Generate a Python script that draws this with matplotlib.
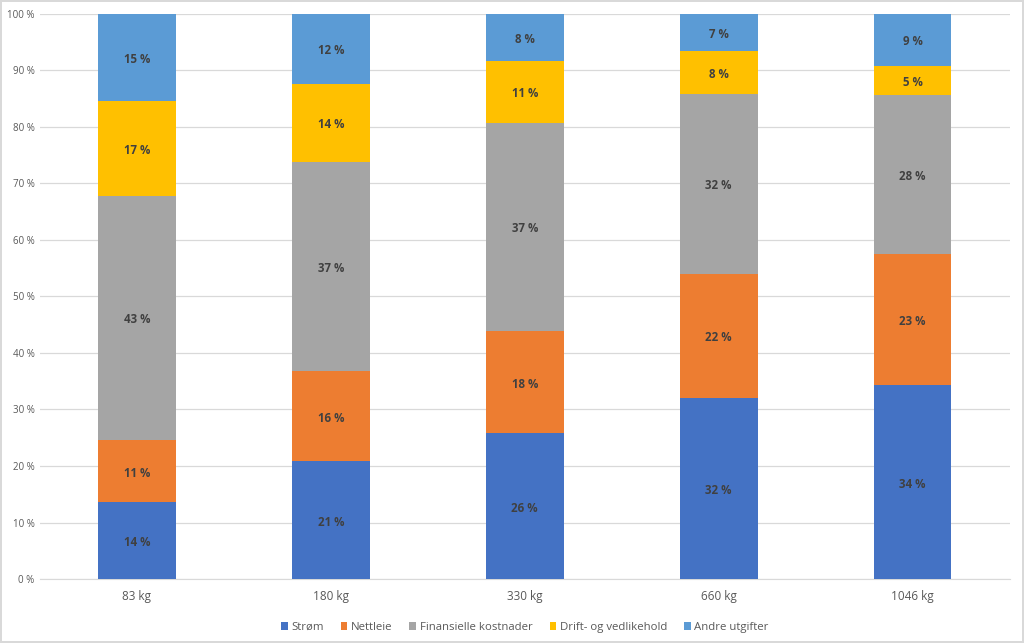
import numpy as np
from matplotlib import pyplot as plt

plt.rcParams['font.family'] = ['Open Sans', 'DejaVu Sans']

kategorier = ['83 kg', '180 kg', '330 kg', '660 kg', '1046 kg']
serier = ['Strøm', 'Nettleie', 'Finansielle kostnader', 'Drift- og vedlikehold', 'Andre utgifter']
strom = [13.6, 20.8, 25.8, 32.0, 34.3]
nettleie = [11.0, 16.0, 18.1, 22.0, 23.2]
finans = [43.2, 37.0, 36.8, 31.8, 28.2]
drift = [16.8, 13.8, 11.0, 7.6, 5.1]
andre = [15.4, 12.4, 8.3, 6.6, 9.2]
farger = ['#4472C4', '#ED7D31', '#A5A5A5', '#FFC000', '#5B9BD5']

fig = plt.figure(figsize=(10.24, 6.43), dpi=100)
fig.patch.set_edgecolor('#D9D9D9')
fig.patch.set_linewidth(1.5)
ax = fig.add_axes([0.039, 0.0995, 0.947, 0.879])

x = np.arange(len(kategorier))
bunn = np.zeros(len(kategorier))
for navn, verdier, farge in zip(serier, [strom, nettleie, finans, drift, andre], farger):
    v = np.array(verdier)
    ax.bar(x, v, 0.40, bottom=bunn, color=farge, label=navn, zorder=3)
    for xi, b, h in zip(x, bunn, v):
        ax.text(xi, b + h / 2 - 0.35, f'{round(h)} %', ha='center', va='center',
                fontsize=8.3, fontweight='bold', color='#404040', zorder=4)
    bunn += v

ax.set_xlim(-0.5, len(kategorier) - 0.5)
ax.set_ylim(0, 100)
ax.set_yticks(range(0, 101, 10))
ax.set_yticklabels([f'{t} %' for t in range(0, 101, 10)])
ax.set_xticks(x)
ax.set_xticklabels(kategorier)
ax.tick_params(axis='y', labelsize=7, colors='#595959', length=0, pad=4)
ax.tick_params(axis='x', labelsize=8.5, colors='#595959', length=0, pad=8)
ax.grid(axis='y', color='#D9D9D9', linewidth=0.9, zorder=0)
for s in ['top', 'right', 'left']:
    ax.spines[s].set_visible(False)
ax.spines['bottom'].set_color('#D9D9D9')

leg = ax.legend(loc='upper center', bbox_to_anchor=(0.5, -0.058), ncol=5, frameon=False,
                fontsize=8.2, handlelength=0.6, handleheight=0.6, handletextpad=0.3,
                columnspacing=1.5)
for t in leg.get_texts():
    t.set_color('#595959')

fig.savefig('out.png', dpi=100)
